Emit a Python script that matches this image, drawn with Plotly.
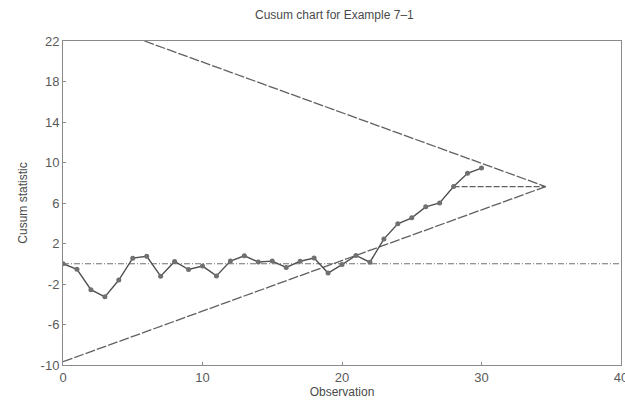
import plotly.graph_objects as go

# Observation numbers and cusum statistic values
observations = list(range(0, 31))
cusum = [0.00, -0.55, -2.56, -3.27, -1.61, 0.55, 0.73, -1.23, 0.23, -0.57,
         -0.23, -1.20, 0.27, 0.78, 0.18, 0.26, -0.37, 0.25, 0.56, -0.92,
         -0.08, 0.82, 0.15, 2.44, 3.94, 4.54, 5.62, 6.00, 7.62, 8.93, 9.45]

# V-mask parameters
mask_obs = 28          # observation where the V-mask is placed
lead_distance = 6.6    # distance from that point to the vertex
slope_k = 0.5          # slope of the arms
center_value = 0.0

x_ticks = [0, 10, 20, 30, 40]
y_ticks = [22, 18, 14, 10, 6, 2, -2, -6, -10]
y_tick_labels = ["22", "18", "14", "10", "6", "2", "-2", "-6", "-10"]
x_range = [0, 40]
y_range = [-10, 22]

anchor_val = cusum[observations.index(mask_obs)]
vertex_x = mask_obs + lead_distance
vertex_y = anchor_val
upper_x_end = vertex_x - (y_range[1] - vertex_y) / slope_k
upper_x = [upper_x_end, vertex_x]
upper_y = [vertex_y + slope_k * (vertex_x - upper_x_end), vertex_y]
lower_x = [x_range[0], vertex_x]
lower_y = [vertex_y - slope_k * (vertex_x - x_range[0]), vertex_y]

arm = "#606060"
fig = go.Figure()
fig.add_trace(go.Scatter(x=x_range, y=[center_value, center_value], mode="lines",
                         line=dict(color="#707070", width=1, dash="6px,2px,1px,2px"),
                         showlegend=False, hoverinfo="skip"))
fig.add_trace(go.Scatter(x=upper_x, y=upper_y, mode="lines",
                         line=dict(color=arm, width=1.3, dash="10px,2px"), showlegend=False))
fig.add_trace(go.Scatter(x=lower_x, y=lower_y, mode="lines",
                         line=dict(color=arm, width=1.3, dash="10px,2px"), showlegend=False))
fig.add_trace(go.Scatter(x=[mask_obs, vertex_x], y=[anchor_val, vertex_y], mode="lines",
                         line=dict(color=arm, width=1.2, dash="6px,2px"), showlegend=False))
fig.add_trace(go.Scatter(x=observations, y=cusum, mode="lines+markers",
                         line=dict(color="#505050", width=1.4),
                         marker=dict(color="#707070", size=5, symbol="circle"),
                         showlegend=False))

axis_font = dict(family="Liberation Sans, Arial, sans-serif", size=13, color="#5a5a5a")
fig.update_layout(
    width=625, height=412,
    margin=dict(l=63, r=4, t=41, b=47),
    paper_bgcolor="white", plot_bgcolor="white",
    title=dict(text="Cusum chart for Example 7–1", x=0.535, xanchor="center",
               y=0.975, yanchor="top",
               font=dict(family="Liberation Sans, Arial, sans-serif", size=12, color="#4a4a4a")),
    font=axis_font,
)
fig.update_xaxes(range=x_range, tickvals=x_ticks, showgrid=False, zeroline=False,
                 showline=True, mirror=True, linecolor="#8a8a8a", linewidth=1,
                 ticks="inside", ticklen=3, tickcolor="#8a8a8a",
                 ticklabeloverflow="allow", automargin=False,
                 title=dict(text="Observation", font=dict(size=12, color="#4a4a4a"), standoff=2))
fig.update_yaxes(range=y_range, tickvals=y_ticks, ticktext=y_tick_labels,
                 showgrid=False, zeroline=False,
                 showline=True, mirror=True, linecolor="#8a8a8a", linewidth=1,
                 ticks="inside", ticklen=3, tickcolor="#8a8a8a",
                 title=dict(text="Cusum statistic", font=dict(size=12, color="#4a4a4a"), standoff=10))

fig.write_html("out.html")
